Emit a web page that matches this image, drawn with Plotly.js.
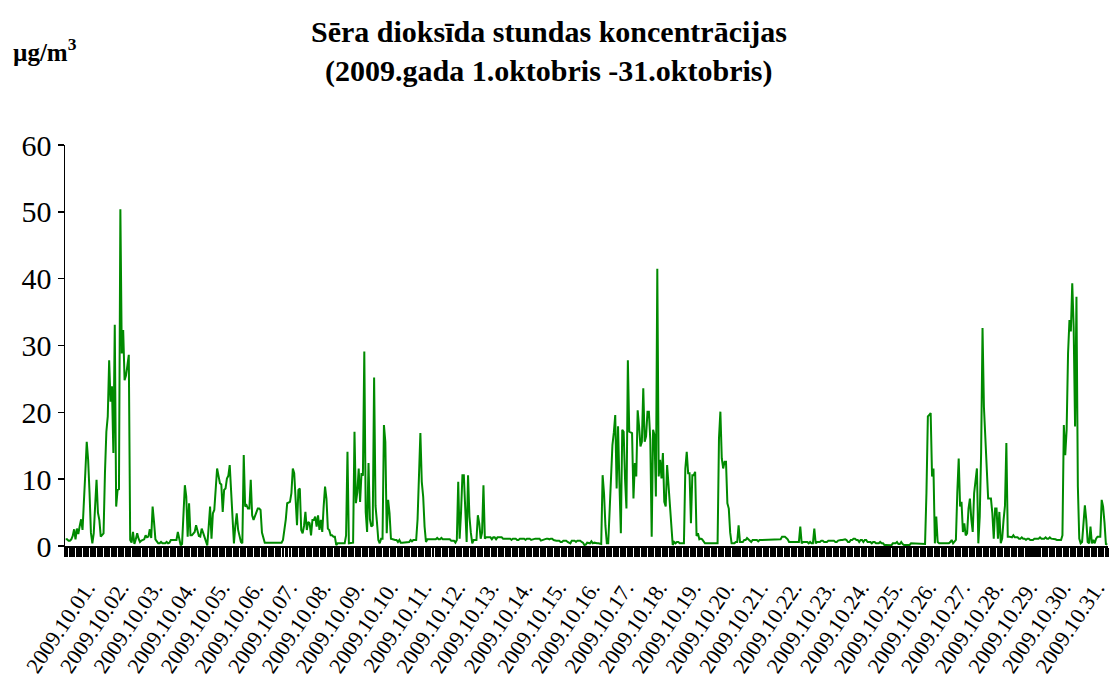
<!DOCTYPE html>
<html>
<head>
<meta charset="utf-8">
<script src="https://cdn.plot.ly/plotly-3.0.1.min.js"></script>
<style>html,body{margin:0;padding:0;background:#fff;}#chart{width:1110px;height:677px;}</style>
</head>
<body>
<div id="chart"></div>
<script>
// Hourly SO2 concentrations (µg/m³), one array per day, 24 hourly values each
const d01 = [1,1,0.8,0.8,1,1.5,2.5,1,2.6,1.8,3,4,2.4,6,11,15.6,12.9,8,2,0.4,1.9,6,9.9,5];
const d02 = [3.9,1.4,1.6,1.9,10.9,17.1,19.4,27.8,21.6,23.9,13.9,33.1,5.9,8.4,8.5,50.4,28.8,32.3,24.8,25.5,27,28.6,0.9,0.5];
const d03 = [2.1,0.3,1.0,1.9,1.1,0.6,0.8,0.9,1.0,1.6,1.3,1.4,2.5,1.2,5.9,3.6,1.0,0.7,0.4,0.4,0.6,0.4,0.4,0.4];
const d04 = [0.6,0.4,0.5,0.9,0.9,0.9,0.9,0.9,2.1,0.9,0.1,0.3,4,9.1,7.4,1.4,6.4,1.6,1.6,1.8,2.1,3.1,2.4,1.5];
const d05 = [1.4,2.6,2.0,1.4,0.6,0.1,2.9,5.9,1.1,4.9,5.4,8.9,11.6,10.5,9.4,9.2,5.1,8.4,8.6,10.1,10.5,12.1,7.4,3];
const d06 = [0.4,3,4.9,2.4,1.4,0.6,0.4,13.6,5.9,6.1,5.6,5.6,9.9,4.6,3.9,4.5,5.1,5.6,5.6,5.4,2,1.1,0.5,0.5];
const d07 = [0.5,0.5,0.5,0.5,0.5,0.5,0.4,0.5,0.5,0.5,0.5,0.9,2.4,4,6.4,6.5,6.6,7.9,11.6,10.9,6,3.1,8.4,8.6];
const d08 = [2.4,1.9,3,5.1,2.4,3.6,3.4,1.6,3.9,3.9,4.4,2.9,4.6,2.4,3.9,2.1,5.9,8.9,7.1,2.6,2.4,1.6,1.6,1.4];
const d09 = [1.4,0.15,0.4,0.4,0.4,0.4,0.4,0.4,1.6,14.1,0.4,0.4,0.4,0.5,17.1,6.4,8,11.6,6.6,10.9,10.5,29.1,5.1,2.1];
const d10 = [12.4,4,2.9,3.1,25.2,6,3.6,0.9,0.4,1.1,1.1,18.1,15.6,1.9,6.9,4.9,1.1,1.0,0.9,0.9,0.9,0.6,0.9,0.5];
const d11 = [0.5,0.5,0.5,0.5,0.5,0.6,0.9,0.7,0.9,0.9,0.9,4,10,16.9,9.6,7.4,2.9,0.6,1.0,1.0,1.0,1.0,1.0,1.0];
const d12 = [1.0,1.2,1.0,1.0,1.2,1.0,1.0,1.1,1.0,1.0,1.0,0.8,0.8,0.8,0.5,0.9,9.6,1.1,5,10.6,10.6,3.9,0.6,10.6];
const d13 = [4.4,2,0.4,0.9,0.9,0.9,4.6,3.4,1.1,2.0,9.1,1.1,1.3,1.3,1.3,1.3,1.0,1.3,1.3,1.0,1.3,1.3,1.3,1.3];
const d14 = [1.1,1.1,1.0,1.1,1.1,1.1,0.9,1.1,1.1,1.1,0.9,0.9,1.1,1.1,1.1,1.1,0.9,1.1,1.1,1.1,0.9,1.0,1.1,1.1];
const d15 = [1.1,1.1,1.1,0.8,0.9,0.9,1.1,1.1,1.1,1.0,1.1,1.1,0.9,0.8,0.8,0.8,0.8,0.6,0.6,0.8,0.8,0.8,0.6,0.5];
const d16 = [0.4,0.8,0.8,0.8,0.6,0.8,0.8,0.8,0.6,0.5,0.15,0.2,0.5,0.4,0.4,0.7,0.4,0.5,0.4,0.4,0.4,0.3,0.3,10.6];
const d17 = [7.9,3,0.4,0.4,5.1,12.1,15.1,17,19.6,8.6,17.9,9.4,1.9,17.4,17.1,10,5.6,27.8,17.1,17,16.9,7.1,12.4,10.4];
const d18 = [20.3,17.9,14.9,15.6,23.6,15.6,16.4,20.1,20.1,15.9,1.4,17.4,16.6,7.4,41.5,10.4,12.9,10.1,13.9,6.6,5.9,12.1,8.9,5];
const d19 = [2.4,0.15,0.6,0.4,0.6,0.6,0.4,0.4,0.4,0.4,11.6,14.1,10.9,10.9,3.4,10.6,10.6,11.1,1.5,1.9,1.0,1.1,1.0,0.6];
const d20 = [0.4,0.4,0.4,0.4,0.4,0.4,0.4,0.4,0.4,0.4,16.1,20.1,13.1,11.6,12.6,12.6,6.4,5.6,2,0.4,0.4,0.4,0.6,0.6];
const d21 = [3.1,0.6,0.6,0.6,0.9,0.9,1.2,1.0,0.9,0.6,0.9,0.9,0.9,0.9,0.7,0.9,0.9,0.9,0.9,0.9,1.0,1.0,1.0,1.0];
const d22 = [1.0,1.0,1.0,1.0,1.0,1.0,1.0,1.4,1.4,1.4,1.2,1.0,0.6,0.6,0.6,0.6,0.6,0.6,0.6,0.6,2.9,0.4,0.6,0.6];
const d23 = [0.6,0.6,0.4,0.6,0.4,0.4,2.6,0.4,0.6,0.6,0.6,0.8,0.8,0.6,0.6,0.6,0.8,0.8,0.8,0.9,0.8,0.6,0.6,0.8];
const d24 = [0.9,0.9,0.9,1.0,1.0,0.9,0.6,0.6,0.9,0.9,1.1,1.1,0.9,0.9,0.6,0.9,0.9,0.6,0.9,0.9,0.6,0.6,0.6,0.4];
const d25 = [0.6,0.6,0.4,0.4,0.4,0.6,0.4,0.4,0.15,0.15,0.15,0.15,0.1,0.1,0.4,0.4,0.4,0.6,0.3,0.3,0.6,0.3,0.15,0.15];
const d26 = [0.15,0.15,0.15,0.4,0.4,0.3,0.4,0.4,0.4,0.4,0.4,0.4,0.4,0.3,8,19.4,19.6,19.9,10.4,11.6,0.4,4.4,0.6,0.4];
const d27 = [0.4,0.4,0.4,0.4,0.4,0.4,0.4,0.6,0.9,0.4,0.7,0.9,8,13.1,5.9,6.6,2.1,3.4,1.6,1.9,5.6,7.1,4,2.1];
const d28 = [7.9,9.5,11.6,0.4,4.4,14,32.6,20.8,15.6,10.4,7.1,7.1,7.1,4.9,1.1,5.6,5.6,1.1,5.1,0.4,1.1,3.9,6,15.4];
const d29 = [1.4,1.4,1.4,1.3,1.6,1.3,1.3,1.3,1.1,1.1,1.3,1.1,1.1,0.9,1.1,1.1,0.9,0.9,0.9,1.1,1.1,1.1,1.1,1.3];
const d30 = [1.1,1.1,1.1,1.3,1.1,1.1,1.3,1.1,1.1,1.1,1.0,0.9,0.9,0.9,0.9,1.6,18.1,13.6,17.4,28.8,33.8,32.1,39.3,32.8];
const d31 = [17.9,37.3,8.9,1.1,0.4,0.6,4,6.1,3.9,0.6,0.4,2.9,0.4,0.9,0.4,1.1,1.4,1.4,1.4,6.9,5.9,3.5,0.3,0.2];

const dayLabels = ['2009.10.01.','2009.10.02.','2009.10.03.','2009.10.04.','2009.10.05.','2009.10.06.',
  '2009.10.07.','2009.10.08.','2009.10.09.','2009.10.10.','2009.10.11.','2009.10.12.','2009.10.13.',
  '2009.10.14.','2009.10.15.','2009.10.16.','2009.10.17.','2009.10.18.','2009.10.19.','2009.10.20.',
  '2009.10.21.','2009.10.22.','2009.10.23.','2009.10.24.','2009.10.25.','2009.10.26.','2009.10.27.',
  '2009.10.28.','2009.10.29.','2009.10.30.','2009.10.31.'];

const yTicks = [0,10,20,30,40,50,60];

const days = [d01,d02,d03,d04,d05,d06,d07,d08,d09,d10,d11,d12,d13,d14,d15,d16,d17,d18,d19,d20,d21,d22,d23,d24,d25,d26,d27,d28,d29,d30,d31];
const values = [].concat(...days);
const hourIndex = values.map((_, i) => i);
const tickPos = dayLabels.map((_, i) => i * 24 + 11.5);

const serif = 'Liberation Serif, Times New Roman, serif';

const trace = {
  x: hourIndex, y: values, type: 'scatter', mode: 'lines',
  line: {color: '#008a00', width: 2}, hoverinfo: 'y'
};

const layout = {
  width: 1110, height: 677,
  margin: {l: 65, r: 2, t: 145, b: 131},
  paper_bgcolor: '#fff', plot_bgcolor: '#fff',
  showlegend: false,
  font: {family: serif, color: '#000'},
  title: {
    text: '<b>Sēra dioksīda stundas koncentrācijas</b>',
    font: {family: serif, size: 30, color: '#000'},
    x: 549/1110, xref: 'container', xanchor: 'center',
    y: 1 - 31/677, yref: 'container', yanchor: 'middle'
  },
  annotations: [
    {text: '<b>(2009.gada 1.oktobris -31.oktobris)</b>', xref: 'paper', yref: 'paper',
     x: (549-65)/1043, y: 1 + (145-71)/401, xanchor: 'center', yanchor: 'middle', showarrow: false,
     font: {family: serif, size: 30, color: '#000'}},
    {text: '<b>µg/m<sup>3</sup></b>', xref: 'paper', yref: 'paper',
     x: (11-65)/1043, y: 1 + (145-50)/401, xanchor: 'left', yanchor: 'middle', showarrow: false,
     font: {family: serif, size: 25, color: '#000'}}
  ],
  xaxis: {
    range: [-0.5, values.length - 0.5],
    tickmode: 'array', tickvals: tickPos, ticktext: dayLabels,
    tickangle: -56, ticks: '',
    ticklabelstandoff: 19, ticklabelshift: 5,
    tickfont: {family: serif, size: 22, color: '#000'},
    showline: true, linecolor: '#000', linewidth: 1.5,
    showgrid: false, zeroline: false,
    minor: {tickmode: 'linear', tick0: -0.5, dtick: 1, ticks: 'outside', ticklen: 9, tickcolor: '#000', tickwidth: 1.2, showgrid: false}
  },
  yaxis: {
    range: [0, 60], tickmode: 'array', tickvals: yTicks,
    ticks: 'outside', ticklen: 6, tickcolor: '#000', tickwidth: 1.5,
    tickfont: {family: serif, size: 30, color: '#000'},
    showline: true, linecolor: '#000', linewidth: 1.5,
    showgrid: false, zeroline: false
  }
};

Plotly.newPlot('chart', [trace], layout, {displayModeBar: false, staticPlot: true});
</script>
</body>
</html>
